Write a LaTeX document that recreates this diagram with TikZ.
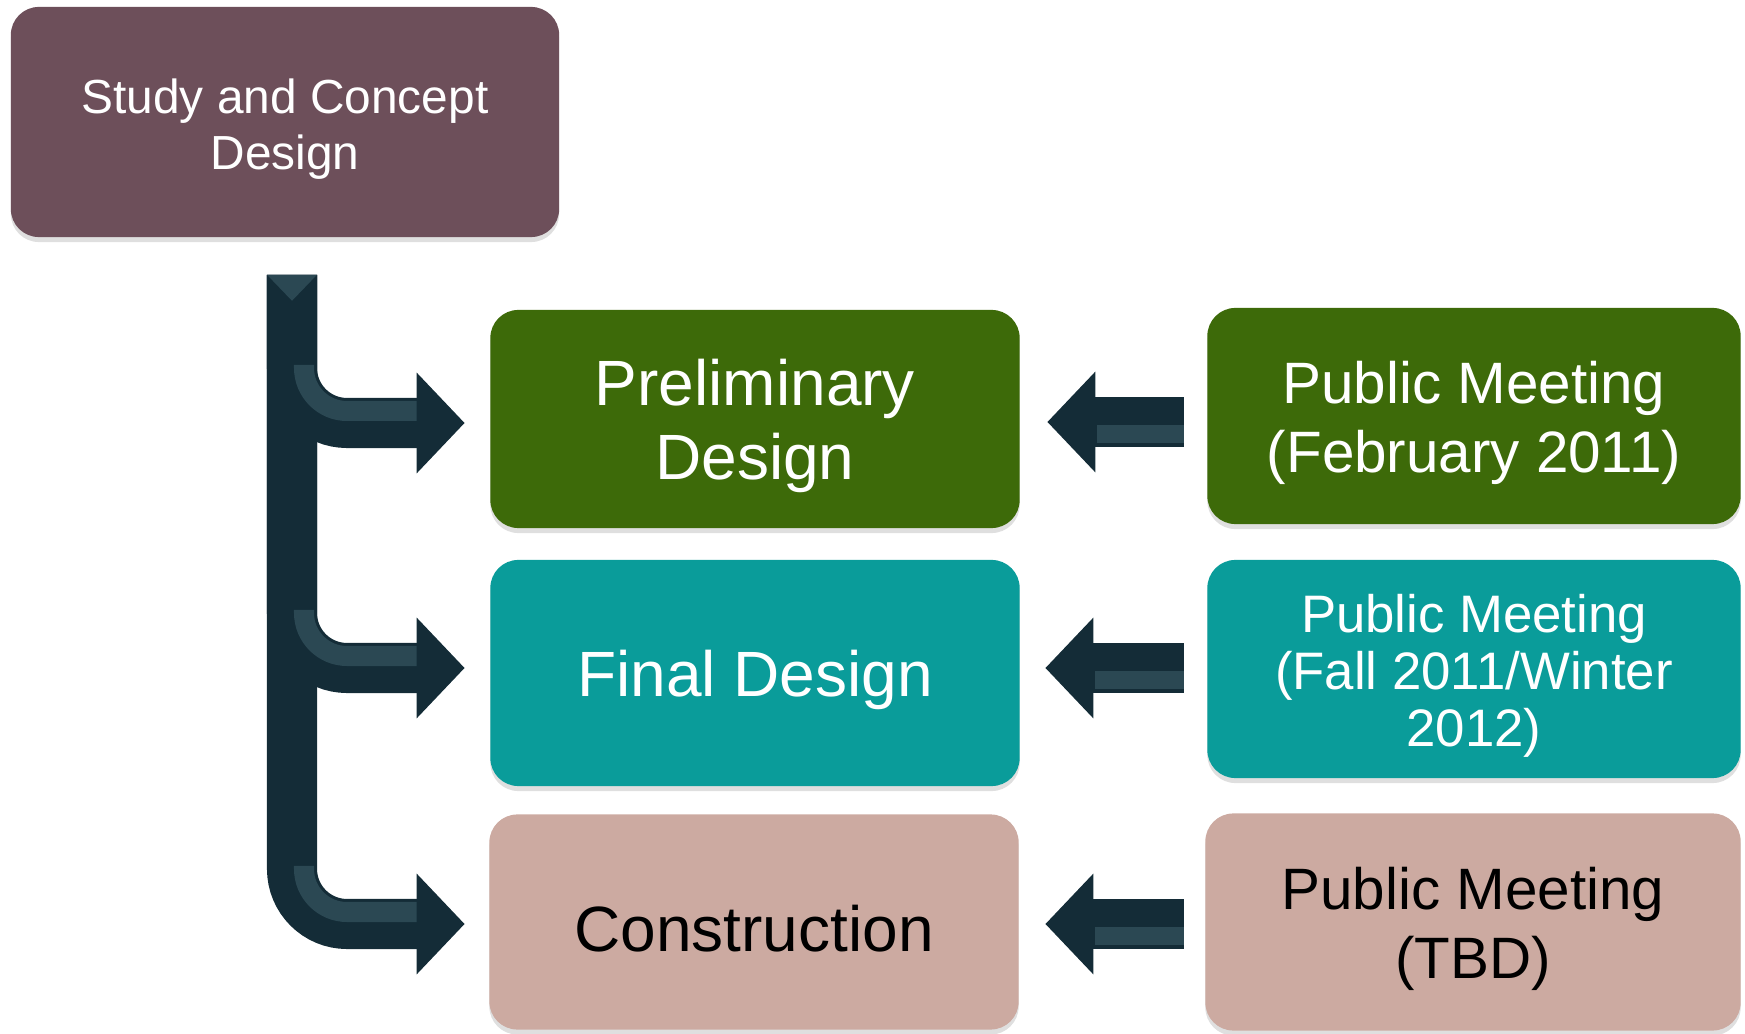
\documentclass[tikz,border=0pt]{standalone}
\usepackage{fontspec}
\setmainfont{Liberation Sans}
\usepackage{xcolor}
\usetikzlibrary{arrows.meta,shadows,calc}

\definecolor{studycol}{HTML}{6D4F5A}
\definecolor{prelimcol}{HTML}{3D6A09}
\definecolor{finalcol}{HTML}{0A9C9A}
\definecolor{buildcol}{HTML}{CCAAA1}
\definecolor{pipedark}{HTML}{142C37}
\definecolor{pipelight}{HTML}{2B4853}

\tikzset{
	phase/.style={rounded corners=0.28cm, minimum width=5.29cm, minimum height=2.18cm,
		align=center, inner sep=0pt,
		drop shadow={opacity=0.25, shadow xshift=0pt, shadow yshift=-0.05cm}},
	caption/.style={align=center, inner sep=0pt, yshift=-0.07cm},
	bigtext/.style={font=\fontsize{18.2}{21.3}\selectfont},
	meettext/.style={font=\fontsize{16.6}{19.8}\selectfont},
	pipe/.style={line width=0.5cm, draw=pipedark, rounded corners=0.55cm},
	pipehead/.style={-{Triangle[length=0.48cm, width=0.98cm]}},
	pipeshine/.style={line width=0.2cm, draw=pipelight, rounded corners=0.43cm},
}

\begin{document}
\begin{tikzpicture}[x=0.01cm, y=-0.01cm]

	\useasboundingbox (0,0) rectangle (1745,1034);

	% phases
	\node[phase, fill=studycol, minimum width=5.48cm, minimum height=2.30cm,
		label={[caption, text=white, font=\fontsize{13.6}{15.9}\selectfont]center:Study and Concept\\Design}]
		(study) at (285,122) {};
	\node[phase, fill=prelimcol,
		label={[caption, bigtext, text=white]center:Preliminary\\Design}] (prelim) at (755,419) {};
	\node[phase, fill=finalcol, minimum height=2.26cm,
		label={[caption, bigtext, text=white]center:Final Design}] (final) at (755,673) {};
	\node[phase, fill=buildcol, minimum height=2.15cm,
		label={[caption, bigtext, text=black]center:Construction}] (build) at (754,922) {};

	% public meetings
	\node[phase, fill=prelimcol, minimum width=5.33cm, minimum height=2.16cm,
		label={[caption, meettext, text=white]center:Public Meeting\\(February 2011)}]
		(meetA) at (1474,416) {};
	\node[phase, fill=finalcol, minimum width=5.33cm, minimum height=2.18cm,
		label={[caption, text=white, font=\fontsize{15}{16.3}\selectfont]center:Public Meeting\\(Fall 2011/Winter\\2012)}]
		(meetB) at (1474,669) {};
	\node[phase, fill=buildcol, minimum width=5.35cm, minimum height=2.17cm,
		label={[caption, meettext, text=black]center:Public Meeting\\(TBD)}]
		(meetC) at (1473,922) {};

	% trunk below the study box
	\coordinate (trunk) at ($(study.south)+(7,37)$);

	\draw[pipe, pipehead] (trunk) |- ($(build.west)+(-24,2)$);
	\draw[pipe, pipehead] (trunk) |- ($(final.west)+(-25,-5)$);
	\draw[pipe, pipehead] (trunk) |- ($(prelim.west)+(-25,4)$);

	\draw[pipeshine] ($(trunk |- build.west)+(12,-56)$) |- ($(build.west)+(-72,-10)$);
	\draw[pipeshine] ($(trunk |- final.west)+(12,-63)$) |- ($(final.west)+(-73,-17)$);
	\draw[pipeshine] ($(trunk |- prelim.west)+(12,-54)$) |- ($(prelim.west)+(-73,-8)$);
	\fill[pipelight] ($(trunk)+(-25,0)$) -- ++(50,0) -- ++(-25,26) -- cycle;

	% meetings feeding back
	\draw[pipe, pipehead] ($(meetA.west |- prelim.east)+(-23,3)$) -- ($(prelim.east)+(27,3)$);
	\draw[pipe, pipehead] ($(meetB.west |- final.east)+(-23,-5)$) -- ($(final.east)+(25,-5)$);
	\draw[pipe, pipehead] ($(meetC.west |- build.east)+(-21,2)$) -- ($(build.east)+(26,2)$);

	\draw[pipeshine, line width=0.18cm] ($(meetA.west |- prelim.east)+(-23,15)$) -- ($(prelim.east)+(77,15)$);
	\draw[pipeshine, line width=0.18cm] ($(meetB.west |- final.east)+(-23,7)$) -- ($(final.east)+(75,7)$);
	\draw[pipeshine, line width=0.18cm] ($(meetC.west |- build.east)+(-21,14)$) -- ($(build.east)+(76,14)$);

\end{tikzpicture}
\end{document}
